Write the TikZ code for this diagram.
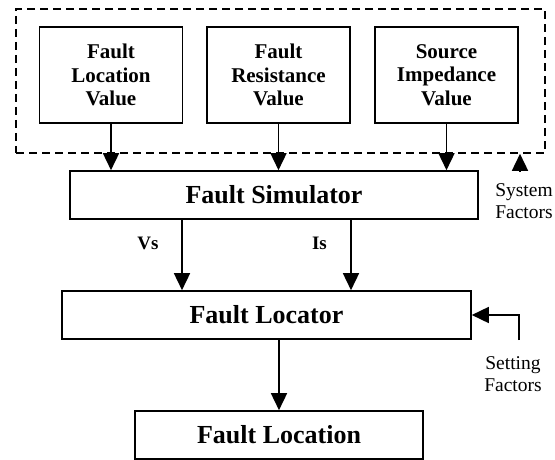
\documentclass[tikz,border=0pt]{standalone}
\usepackage{fontspec}
\setmainfont{Liberation Serif}
\usetikzlibrary{arrows.meta}

\tikzset{
    blk/.style={draw, line width=1.6pt, inner sep=0pt, align=center, font=\fontsize{26}{30}\selectfont\bfseries},
    inbox/.style={blk, minimum width=143pt, minimum height=96pt, font=\fontsize{21}{23.5}\selectfont\bfseries},
    arr/.style={-{Triangle[width=16pt,length=17pt]}, line width=1.6pt},
    sig/.style={font=\fontsize{19}{22}\selectfont\bfseries},
    note/.style={align=center, font=\fontsize{19.5}{22}\selectfont}
}
\newcommand{\drawInput}[3]{\node[inbox] (#1) at (#2,75) {#3};}

\begin{document}
\begin{tikzpicture}[x=1pt, y=-1pt]
        \useasboundingbox (0,0) rectangle (555,460);

        % Draw the system factor group
        \node[draw, dashed, dash pattern=on 8pt off 5pt, line width=1.6pt, minimum width=529pt, minimum height=144pt, inner sep=0pt] (grp) at (280.5,81) {};

        \drawInput{loc}{111}{Fault\\Location\\Value}
        \drawInput{res}{278.5}{Fault\\Resistance\\Value}
        \drawInput{imp}{446.5}{Source\\Impedance\\Value}

        \node[blk, minimum width=408pt, minimum height=48pt] (sim) at (274,195) {Fault Simulator};
        \node[blk, minimum width=409pt, minimum height=48pt] (fl) at (266.5,315) {Fault Locator};
        \node[blk, minimum width=288pt, minimum height=48pt] (out) at (279,435) {Fault Location};

        % Draw inputs into the simulator
        \foreach \n in {loc,res,imp}
            \draw[arr] (\n.south) -- (\n.south |- sim.north);

        % Draw measured signals
        \coordinate (vsx) at (182,0);
        \coordinate (isx) at (351,0);
        \draw[arr] (sim.south -| vsx) -- (fl.north -| vsx);
        \draw[arr] (sim.south -| isx) -- (fl.north -| isx);
        \node[sig] (vs) at (148,243) {Vs};
        \node[sig] (is) at (319.5,243) {Is};

        \draw[arr] (out.north |- fl.south) -- (out.north);

        % Draw the factor arrows
        \coordinate (sysf) at (520,172);
        \draw[arr] (sysf) -- (sysf |- grp.south);
        \node[note] (syslbl) at (524,201) {System\\Factors};

        \coordinate (setf) at (519,340);
        \draw[arr] (setf) |- (fl.east);
        \node[note] (setlbl) at (513,374) {Setting\\Factors};

    \end{tikzpicture}
\end{document}
